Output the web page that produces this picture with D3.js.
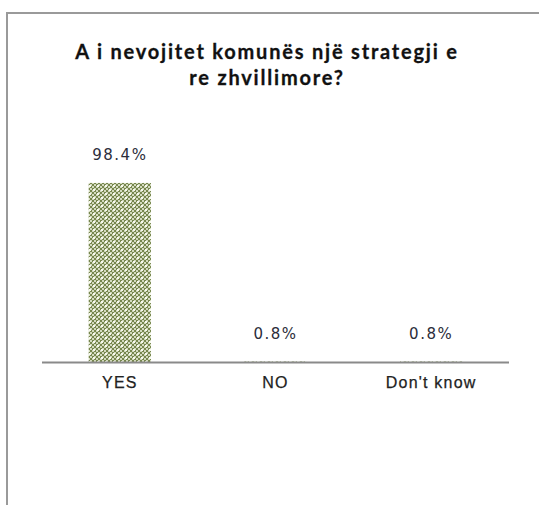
<!DOCTYPE html>
<html>
<head>
<meta charset="utf-8">
<script src="https://cdn.jsdelivr.net/npm/d3@7"></script>
<style>
  html, body { margin: 0; padding: 0; background: #fff; }
  svg { display: block; }
</style>
</head>
<body>
<svg id="chart" width="539" height="505"></svg>
<script>
// Survey answers and their shares (percent)
const categories = ["YES", "NO", "Don't know"];
const values = [98.4, 0.8, 0.8];
const valueLabels = ["98.4%", "0.8%", "0.8%"];
const titleLines = ["A i nevojitet komunës një strategji e", "re zhvillimore?"];

const W = 539, H = 505;
const svg = d3.select("#chart");

// Frame around the chart area
svg.append("line").attr("x1", 7).attr("x2", W).attr("y1", 13).attr("y2", 13)
  .attr("stroke", "#9a9a9a").attr("stroke-width", 2);
svg.append("line").attr("x1", 7).attr("x2", 7).attr("y1", 12).attr("y2", H)
  .attr("stroke", "#9a9a9a").attr("stroke-width", 2);

// Dotted olive fill for the bars
const defs = svg.append("defs");
const pat = defs.append("pattern").attr("id", "dots")
  .attr("patternUnits", "userSpaceOnUse").attr("width", 8).attr("height", 8);
pat.append("rect").attr("width", 8).attr("height", 8).attr("fill", "#d3dabd");
for (let i = 0; i < 4; i++) {
  for (let j = 0; j < 4; j++) {
    if ((i + j) % 2 === 0) {
      pat.append("rect").attr("x", i * 2).attr("y", j * 2)
        .attr("width", 2).attr("height", 2).attr("fill", "#76864d");
    }
  }
}
pat.append("rect").attr("x", 1).attr("y", 1).attr("width", 2).attr("height", 2).attr("fill", "#f7f9ee");
pat.append("rect").attr("x", 5).attr("y", 5).attr("width", 2).attr("height", 2).attr("fill", "#f7f9ee");

// Scales
const x = d3.scaleBand().domain(categories).range([42, 509])
  .paddingInner(0.6).paddingOuter(0.3);
const y = d3.scaleLinear().domain([0, 100]).range([363, 180]);

// Title
svg.append("text")
  .attr("y", 59)
  .attr("text-anchor", "middle")
  .attr("font-family", "Lato, 'Open Sans', sans-serif")
  .attr("font-weight", "bold").attr("font-size", 20)
  .attr("letter-spacing", 1.8)
  .attr("fill", "#111")
  .attr("stroke", "#111").attr("stroke-width", 0.3)
  .selectAll("tspan").data(titleLines).join("tspan")
  .attr("x", 267).attr("dy", (d, i) => i === 0 ? 0 : 26)
  .text(d => d);

// Bars
svg.append("g").selectAll("rect").data(values).join("rect")
  .attr("x", (d, i) => x(categories[i]))
  .attr("width", x.bandwidth())
  .attr("y", d => y(d))
  .attr("height", d => y(0) - y(d))
  .attr("fill", "url(#dots)");

// Value labels
svg.append("g").selectAll("text").data(values).join("text")
  .attr("x", (d, i) => x(categories[i]) + x.bandwidth() / 2)
  .attr("y", d => y(d) - 23)
  .attr("text-anchor", "middle")
  .attr("font-family", "'DejaVu Sans', sans-serif")
  .attr("font-size", 15)
  .attr("letter-spacing", 1.5)
  .attr("fill", "#2b2d3a")
  .text((d, i) => valueLabels[i]);

// Category axis (the baseline sits on top of the bar bottoms)
const axis = svg.append("g").attr("transform", `translate(0,${y(0)})`)
  .call(d3.axisBottom(x).tickSize(0).tickPadding(14));
axis.select(".domain").attr("stroke", "#8a8a8a").attr("stroke-width", 2)
  .attr("d", "M42,-0.5H509");
axis.selectAll("text")
  .attr("font-family", "'Liberation Sans', Arial, sans-serif")
  .attr("font-size", 16)
  .attr("letter-spacing", 1.2)
  .attr("fill", "#222")
  .attr("stroke", "#222").attr("stroke-width", 0.25);
</script>
</body>
</html>
